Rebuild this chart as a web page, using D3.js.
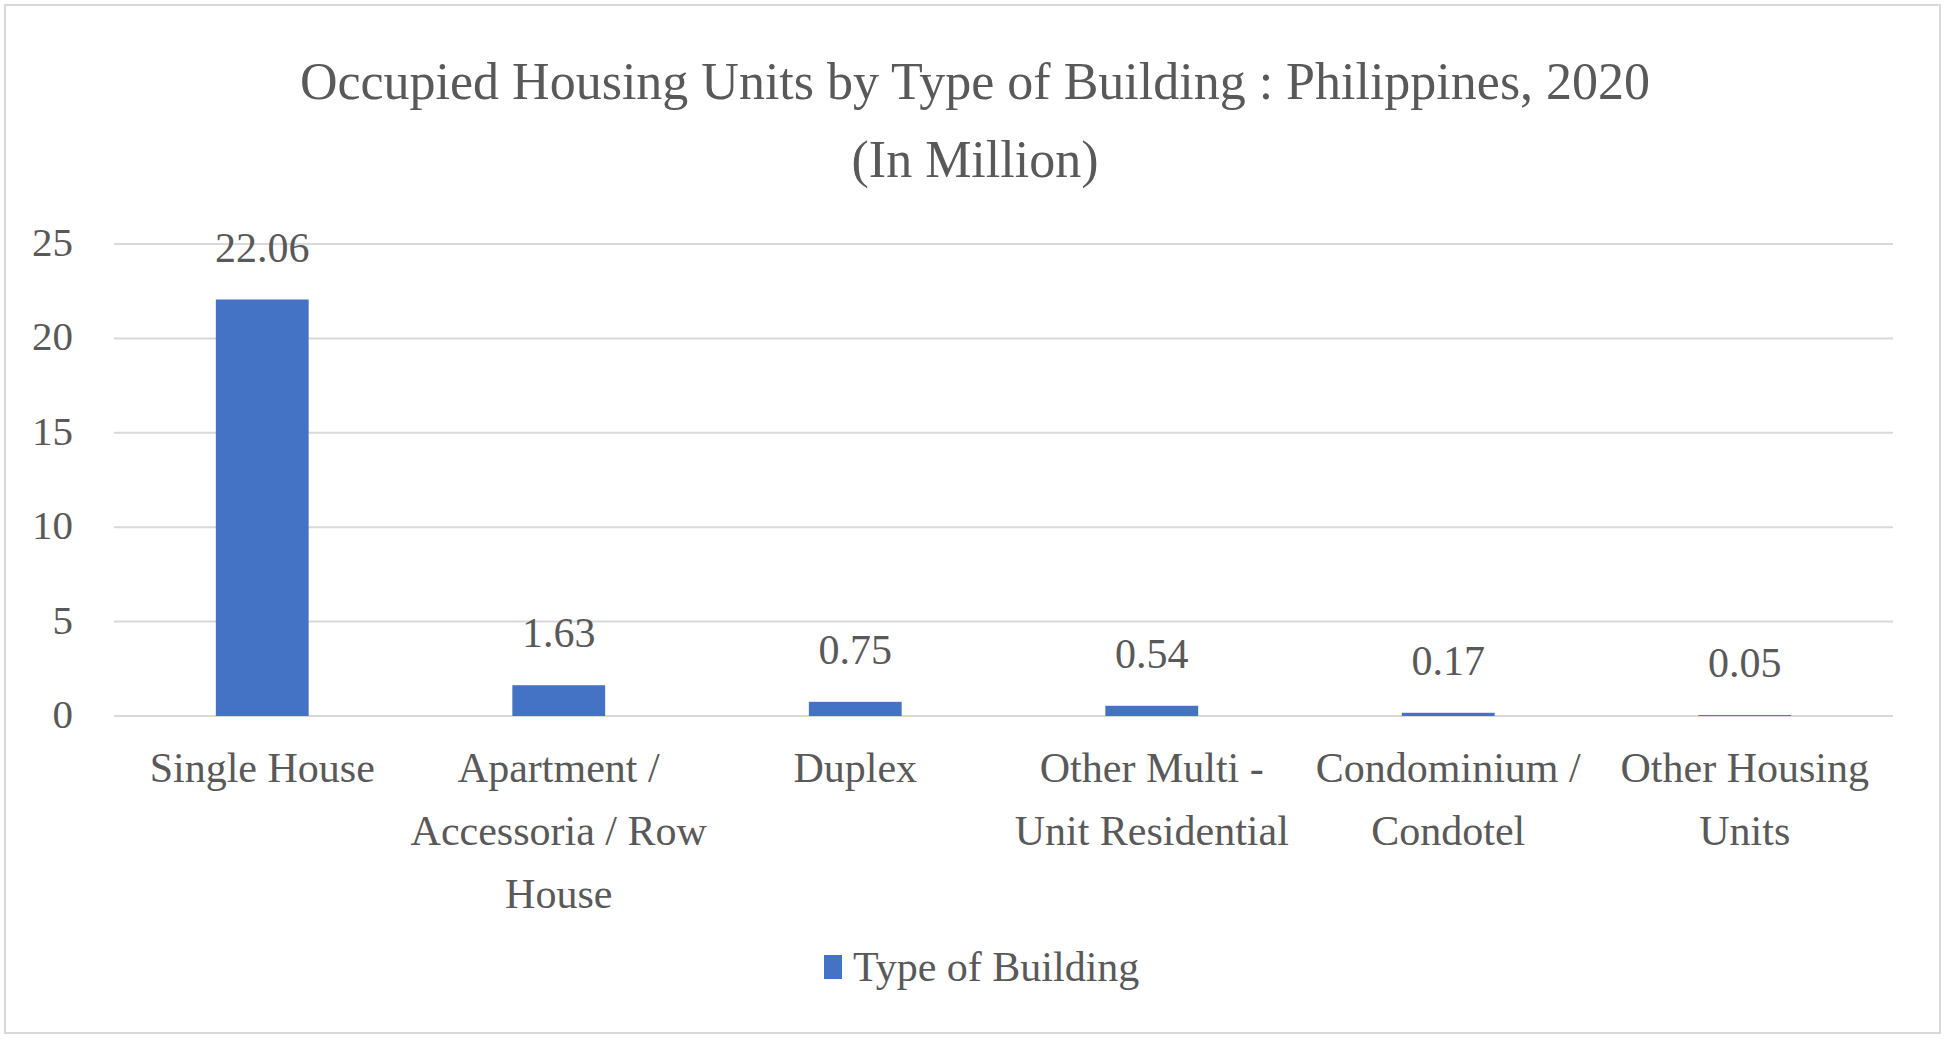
<!DOCTYPE html>
<html>
<head>
<meta charset="utf-8">
<script src="https://cdn.jsdelivr.net/npm/d3@7"></script>
<style>
  html, body { margin: 0; padding: 0; background: #fff; }
  svg { display: block; }
  text { font-family: "Liberation Serif", "DejaVu Serif", serif; fill: #595959; }
</style>
</head>
<body>
<svg id="chart" width="1950" height="1040"></svg>
<script>
const categories = ["Single House", "Apartment / Accessoria / Row House", "Duplex",
  "Other Multi - Unit Residential", "Condominium / Condotel", "Other Housing Units"];
const categoryLines = [["Single House"], ["Apartment /", "Accessoria / Row", "House"], ["Duplex"],
  ["Other Multi -", "Unit Residential"], ["Condominium /", "Condotel"], ["Other Housing", "Units"]];
const values = [22.06, 1.63, 0.75, 0.54, 0.17, 0.05];
const yTicks = [0, 5, 10, 15, 20, 25];
const seriesName = "Type of Building";
const titleLines = ["Occupied Housing Units by Type of Building : Philippines, 2020", "(In Million)"];

const svg = d3.select("#chart");
const W = 1950, H = 1040;
const pLeft = 114, pRight = 1893, pTop = 244, pBottom = 716;

svg.append("rect").attr("x", 5).attr("y", 5).attr("width", 1935).attr("height", 1028)
  .attr("fill", "#fff").attr("stroke", "#d9d9d9").attr("stroke-width", 2);

const x = d3.scaleBand().domain(categories).range([pLeft, pRight]).paddingInner(0.687).paddingOuter(0.3435);
const y = d3.scaleLinear().domain([0, 25]).range([pBottom, pTop]);

// title
svg.append("g").selectAll("text").data(titleLines).join("text")
  .attr("x", W / 2).attr("y", (d, i) => 99 + i * 78)
  .attr("text-anchor", "middle").attr("font-size", 52).text(d => d);

// gridlines
svg.append("g").selectAll("line").data(yTicks).join("line")
  .attr("x1", pLeft).attr("x2", pRight)
  .attr("y1", d => y(d)).attr("y2", d => y(d))
  .attr("stroke", "#d9d9d9").attr("stroke-width", 2);

// y axis
const yAxis = svg.append("g").attr("transform", `translate(${pLeft - 41},0)`)
  .call(d3.axisLeft(y).tickValues(yTicks).tickSize(0).tickPadding(0));
yAxis.select(".domain").remove();
yAxis.selectAll("text").attr("font-size", 41).attr("font-family", "Liberation Serif").attr("fill", "#595959").attr("dy", "0.28em");

// bars
svg.append("g").selectAll("rect").data(values).join("rect")
  .attr("x", (d, i) => x(categories[i])).attr("width", x.bandwidth())
  .attr("y", d => y(d)).attr("height", d => y(0) - y(d))
  .attr("fill", "#4472c4");

// value labels
svg.append("g").selectAll("text").data(values).join("text")
  .attr("x", (d, i) => x(categories[i]) + x.bandwidth() / 2)
  .attr("y", d => y(d) - 38)
  .attr("text-anchor", "middle").attr("font-size", 42)
  .text(d => d.toFixed(2));

// category labels
const xAxis = svg.append("g").attr("transform", `translate(0,${pBottom})`)
  .call(d3.axisBottom(x).tickSize(0).tickFormat(""));
xAxis.select(".domain").remove();
const catG = svg.append("g");
categories.forEach((c, i) => {
  const cx = x(c) + x.bandwidth() / 2;
  catG.append("text").attr("x", cx).attr("text-anchor", "middle").attr("font-size", 42)
    .selectAll("tspan").data(categoryLines[i]).join("tspan")
    .attr("x", cx).attr("y", (d, j) => 782 + j * 63).text(d => d);
});

// legend
const lg = svg.append("g");
lg.append("rect").attr("x", 824).attr("y", 955).attr("width", 18).attr("height", 24).attr("fill", "#4472c4");
lg.append("text").attr("x", 853).attr("y", 981).attr("font-size", 42).text(seriesName);
</script>
</body>
</html>
